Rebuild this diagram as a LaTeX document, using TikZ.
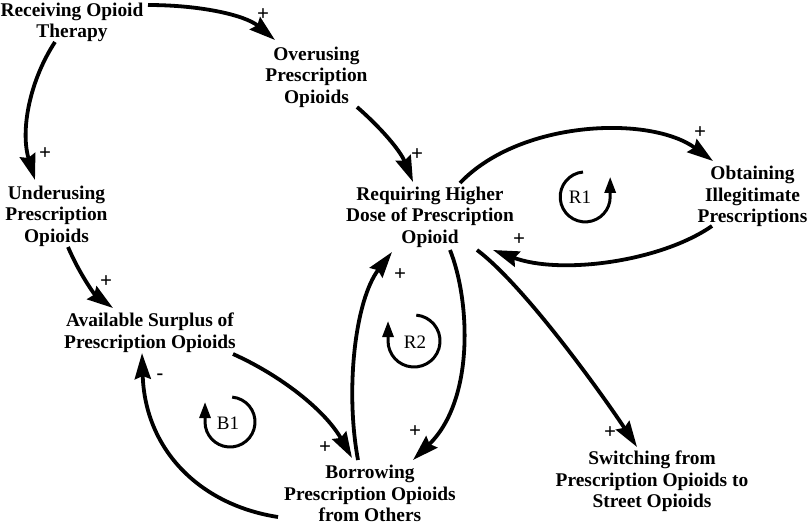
\documentclass[tikz,border=0pt]{standalone}
\usepackage{fontspec}
\setmainfont{Liberation Serif}
\usetikzlibrary{arrows.meta}
\tikzset{
  var/.style={font=\fontsize{19.4}{21.5}\selectfont\bfseries, align=center, inner sep=0pt},
  sgn/.style={font=\fontsize{21}{21}\selectfont\bfseries, inner sep=0pt},
  loopname/.style={font=\fontsize{19}{19}\selectfont, inner sep=0pt},
  link/.style={line width=3.8pt, -{Stealth[length=26pt,width=16pt,inset=3pt]}},
  loopmark/.style={line width=3pt, -{Triangle[length=16pt,width=11pt]}}
}
\begin{document}
\begin{tikzpicture}[x=1pt,y=-1pt]
\path[fill=white] (0,0) rectangle (810,525);
\useasboundingbox (0,0) rectangle (810,525);

% variables
\node[var] (recv) at (72,22.5) {Receiving Opioid\\Therapy};
\node[var] (over) at (316.5,77) {Overusing\\Prescription\\Opioids};
\node[var] (under) at (56.5,216) {Underusing\\Prescription\\Opioids};
\node[var] (avail) at (150,332.7) {Available Surplus of\\Prescription Opioids};
\node[var] (req) at (430,217) {Requiring Higher\\Dose of Prescription\\Opioid};
\node[var] (obt) at (752.5,196.5) {Obtaining\\Illegitimate\\Prescriptions};
\node[var] (borr) at (370,493.6) {Borrowing\\Prescription Opioids\\from Others};
\node[var] (switch) at (652,481.5) {Switching from\\Prescription Opioids to\\Street Opioids};

% links
\draw[link] ([xshift=76pt,yshift=17.5pt]recv.center) .. controls (200,5) and (245,15) .. ([xshift=-41.5pt,yshift=37pt]over.center);
\draw[link] ([xshift=-17pt,yshift=-19.5pt]recv.center) .. controls (30,80) and (20,130) .. ([xshift=-21.5pt,yshift=36pt]under.center);
\draw[link] ([xshift=40.5pt,yshift=-30pt]over.center) .. controls (380,127) and (400,150) .. ([xshift=-17pt,yshift=35pt]req.center);
\draw[link] ([xshift=11.5pt,yshift=-31pt]under.center) .. controls (80,275) and (95,295) .. ([xshift=-37pt,yshift=24.7pt]avail.center);
\draw[link] ([xshift=30pt,yshift=34pt]req.center) .. controls (520,120) and (650,115) .. ([xshift=-39.5pt,yshift=35.5pt]obt.center);
\draw[link] ([xshift=-40.5pt,yshift=-29.5pt]obt.center) .. controls (660,262) and (560,275) .. ([xshift=63pt,yshift=-33pt]req.center);
\draw[link] ([xshift=47pt,yshift=-33pt]req.center) .. controls (525,286) and (604,397) .. ([xshift=-15pt,yshift=34.5pt]switch.center);
\draw[link] ([xshift=20pt,yshift=-33pt]req.center) .. controls (470,300) and (475,400) .. ([xshift=43pt,yshift=33.6pt]borr.center);
\draw[link] ([xshift=-12pt,yshift=33.6pt]borr.center) .. controls (345,390) and (355,300) .. ([xshift=-38pt,yshift=-35pt]req.center);
\draw[link] ([xshift=83pt,yshift=-21.3pt]avail.center) .. controls (280,375) and (325,410) .. ([xshift=-18pt,yshift=35.6pt]borr.center);
\draw[link] ([xshift=-92pt,yshift=-23.4pt]borr.center) .. controls (200,505) and (145,450) .. ([xshift=-8pt,yshift=-20.3pt]avail.center);

% polarities
\node[sgn] (p1) at (263,15) {+};
\node[sgn] (p2) at (45,154) {+};
\node[sgn] (p3) at (417,155) {+};
\node[sgn] (p4) at (106,282) {+};
\node[sgn] (p5) at (700,133) {+};
\node[sgn] (p6) at (519,240) {+};
\node[sgn] (p7) at (610,433) {+};
\node[sgn] (p8) at (415,432) {+};
\node[sgn] (p9) at (400,275) {+};
\node[sgn] (p10) at (325,448) {+};
\node[sgn,font=\fontsize{20}{20}\selectfont\bfseries] (m1) at (160,377) {-};

% loop markers
\node[loopname] (r1) at (580,197) {R1};
\draw[loopmark] (583,172) arc[start angle=95, end angle=360, radius=25pt] -- ++(0,-20);
\node[loopname] (r2) at (415,342) {R2};
\draw[loopmark] (416.3,315.1) arc[start angle=85, end angle=-180, radius=26pt] -- ++(0,-20);
\node[loopname] (b1) at (228,423) {B1};
\draw[loopmark] (232.2,397.1) arc[start angle=85, end angle=-180, radius=25pt] -- ++(0,-20);
\end{tikzpicture}
\end{document}
